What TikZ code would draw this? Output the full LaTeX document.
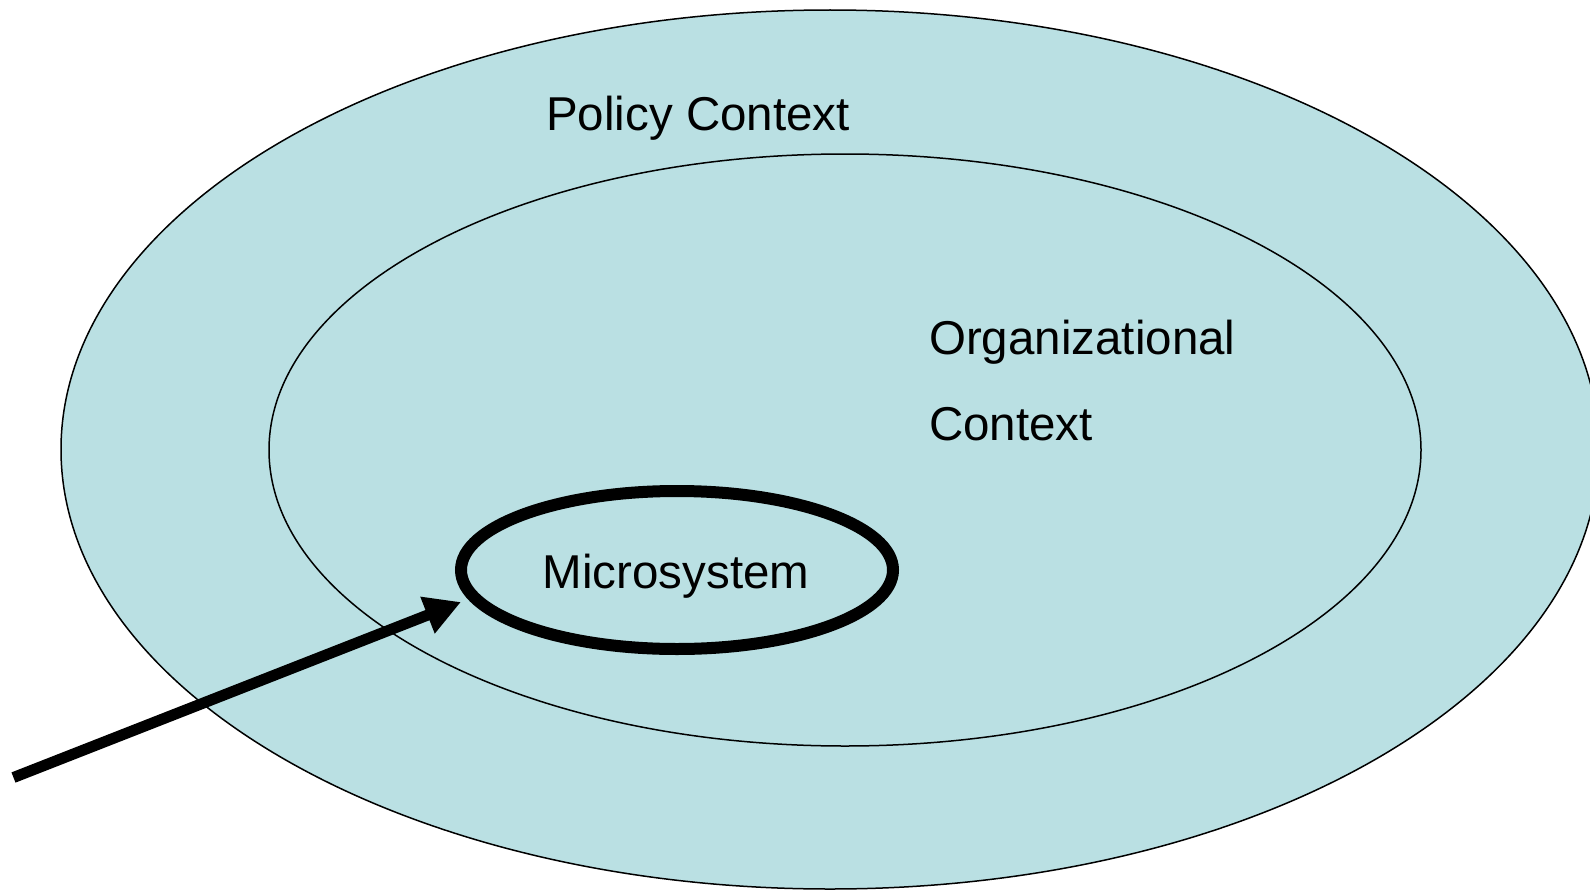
\documentclass[tikz,border=0pt]{standalone}
\usepackage{fontspec}
\setmainfont{Liberation Sans}
\usetikzlibrary{shapes.geometric,arrows.meta}

\definecolor{ctxblue}{RGB}{186,224,227}

\begin{document}
\begin{tikzpicture}[
  x=1pt, y=-1pt,
  context/.style = {
    draw,
    shape=ellipse,
    fill=ctxblue,
    line width=1.5pt,
    inner sep=0
  },
  label/.style = {
    inner sep=0,
    font=\fontsize{47.5}{86}\selectfont
  },
  %arrow/.style = {-Triangle},
]
  \useasboundingbox (0,0) rectangle (1590,891);
  \clip (0,0) rectangle (1590,891);

  \node (policy)[
    context,
    minimum width=1538pt,
    minimum height=879pt
  ] at (830,449.5) {};
  \node (org)[
    context,
    minimum width=1152pt,
    minimum height=592pt
  ] at (845,450) {};
  \node (micro)[
    context,
    fill=none,
    line width=12pt,
    minimum width=432pt,
    minimum height=158pt
  ] at (677,570) {};

  \node (policytext)[label, anchor=base] at (698,130) {Policy Context};
  \node (orgtext)[label, anchor=west, align=left] at (929,381) {Organizational\\Context};
  \node (microtext)[label, anchor=base] at (676,588) {Microsystem};

  % arrow points at the microsystem, ending just short of its rim
  \coordinate (start) at (13.5,777.5);
  \coordinate (tip) at (461,602);
  \draw[line width=11pt, -{Triangle[length=36pt,width=37pt]}] (start) -- (tip);
\end{tikzpicture}
\end{document}
